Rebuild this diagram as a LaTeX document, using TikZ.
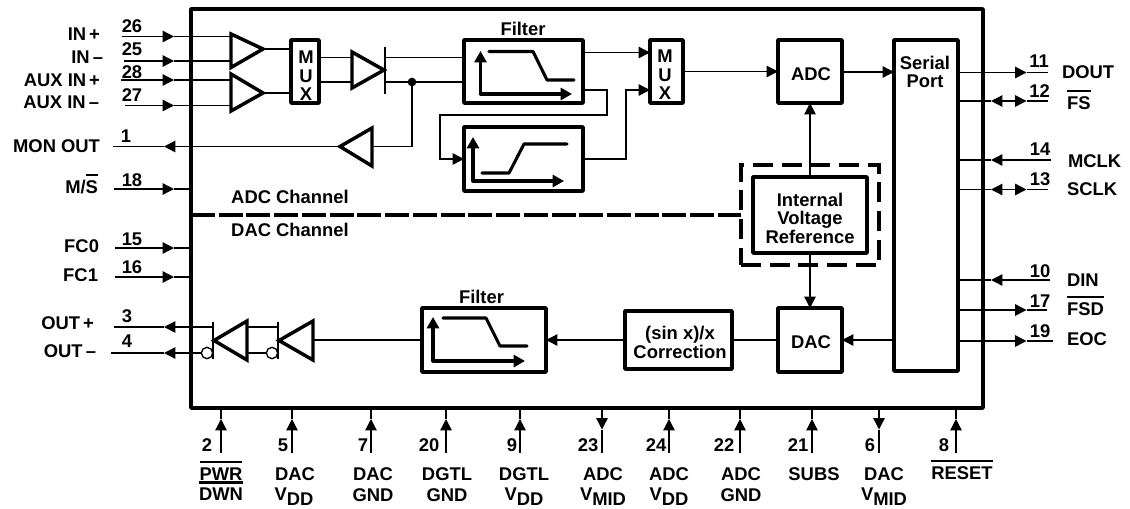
\documentclass[tikz,border=0pt]{standalone}
\usepackage{fontspec}
\setmainfont{Liberation Sans}
\usetikzlibrary{arrows.meta}
\newcommand\ovl[1]{\setbox0=\hbox{#1}\rlap{\vrule width\wd0 height 14.4pt depth -12.6pt}\box0}
\newcommand\lowr[1]{\raisebox{-3.4pt}{#1}}
\tikzset{
  thinw/.style={line width=1pt,draw=black},
  sig/.style={thinw,>={Triangle[length=8.5pt,width=8.5pt]}},
  sz/.style 2 args={minimum width=#1*0.75pt,minimum height=#2*0.75pt},
  blk/.style={draw=black,line width=2.6pt,inner sep=0pt,outer sep=0pt,rectangle,line join=round,fill=white},
  txt/.style={font=\fontsize{13.8}{13.9}\selectfont\bfseries,inner sep=0pt,outer sep=0pt,text=black},
  lab/.style={txt,anchor=base},
  multi/.style={txt,align=center,anchor=center},
  amp/.style={draw=black,line width=2.6pt,line join=miter,fill=white},
  glyph/.style={draw=black,line width=2.3pt,line cap=round,line join=round},
  axes/.style={draw=black,line width=2.3pt,line join=round,{Triangle[length=8.5pt,width=9pt]}-{Triangle[length=8.5pt,width=9pt]}},
  bar/.style={thinw},
  dashsep/.style={draw=black,line width=2.9pt,dash pattern=on 18pt off 2.8pt},
  dashbox/.style={draw=black,line width=2.6pt,dash pattern=on 15pt off 6.5pt,rectangle,inner sep=0pt,outer sep=0pt},
  bubble/.style={circle,draw=black,line width=1pt,fill=white,minimum size=8.5pt,inner sep=0pt,outer sep=0pt},
  junction/.style={circle,fill=black,minimum size=6.5pt,inner sep=0pt,outer sep=0pt}
}
\begin{document}
\begin{tikzpicture}[x=0.75pt,y=-0.75pt]
\useasboundingbox (0,0) rectangle (1130,508);
\fill[white] (0,0) rectangle (1130,508);

% chip outline
\node[blk,sz={792}{399}] (chip) at (587,208.5) {};

% amplifier and bar reference points
\coordinate (a1t) at (231,34);   \coordinate (a1b) at (231,67.5); \coordinate (a1x) at (263,49);
\coordinate (a2t) at (231,74);   \coordinate (a2b) at (231,111);  \coordinate (a2x) at (263,93);
\coordinate (a3t) at (352,52);   \coordinate (a3b) at (352,88);   \coordinate (a3x) at (384,70);
\coordinate (a4t) at (372,128);  \coordinate (a4b) at (372,166);  \coordinate (a4x) at (340,146.5);
\coordinate (a5t) at (247,321);  \coordinate (a5b) at (247,360);  \coordinate (a5x) at (214,340.5);
\coordinate (a6t) at (313,321);  \coordinate (a6b) at (313,360);  \coordinate (a6x) at (279,340.5);
\coordinate (r1) at (352,57.5);  \coordinate (r2) at (352,82);
\coordinate (b3t) at (385,47);   \coordinate (b3b) at (385,94);
\coordinate (b5t) at (213,322);  \coordinate (b5b) at (213,359);
\coordinate (b6t) at (278,322);  \coordinate (b6b) at (278,359);

% blocks
\node[blk,sz={28}{63}] (mux1) at (305,71.5) {};
\node[blk,sz={33}{63}] (mux2) at (666.5,71.5) {};
\node[blk,sz={119}{63}] (f1) at (523.5,71.5) {};
\node[blk,sz={119}{64}] (f2) at (523.5,159) {};
\node[blk,sz={124}{64}] (f3) at (484,340) {};
\node[blk,sz={64}{63}] (adc) at (810,71.5) {};
\node[blk,sz={64}{64}] (dac) at (810,340) {};
\node[blk,sz={107}{58}] (corr) at (678.5,340) {};
\node[blk,sz={64}{331}] (sp) at (926,205.5) {};
\node[dashbox,sz={138}{100}] (vbox) at (810,215) {};
\node[blk,sz={114}{76}] (vref) at (810,215) {};

% internal wires
\draw[sig] (a1x) -- (a1x -| mux1.west);
\draw[sig] (a2x) -- (a2x -| mux1.west);
\draw[sig] (r1 -| mux1.east) -- (r1);
\draw[sig] (r2 -| mux1.east) -- (r2);
\draw[sig] (r1 -| b3t) -- (r1 -| f1.west);
\draw[sig] (r2 -| b3t) -- (r2 -| f1.west);
\node[junction] (dot) at (412,82) {};
\draw[sig] (dot) |- (a4x -| a4t);
\coordinate (f1o1) at (583,52.5);
\coordinate (f1o2) at (583,90);
\coordinate (r3) at (607,115);
\coordinate (r4) at (440,115);
\coordinate (f2i) at (464,159);
\coordinate (m2i1) at (650,52.5);
\coordinate (m2i2) at (650,90);
\coordinate (r5) at (626,159);
\draw[sig,->] (f1o1) -- (m2i1);
\draw[sig,->] (f1o2) -| (r3) -- (r4) |- (f2i);
\draw[sig,->] (r5 -| f2.east) -- (r5) |- (m2i2);
\draw[sig,->] (mux2.east) -- (adc.west);
\coordinate (sp1) at (894,72);
\draw[sig,->] (sp1 -| adc.east) -- (sp1);
\draw[sig,->] (vref.north) -- (adc.south);
\draw[sig,->] (vref.south) -- (dac.north);
\draw[sig,->] (sp.west |- dac.west) -- (dac.east);
\draw[sig] (dac.west) -- (corr.east);
\draw[sig,->] (corr.west) -- (f3.east);
\draw[sig] (f3.west) -- (a6t |- f3.west);
\coordinate (w3) at (0,327);
\coordinate (w4) at (0,353);
\draw[sig] (w3 -| a5t) -- (w3 -| b6t);
\node[bubble] (bub6) at (272,353) {};
\node[bubble] (bub5) at (207,353) {};
\draw[sig] (w4 -| a5t) -- (bub6);

% amplifiers
\draw[amp] (a1t) -- (a1x) -- (a1b) -- cycle;
\draw[amp] (a2t) -- (a2x) -- (a2b) -- cycle;
\draw[amp] (a3t) -- (a3x) -- (a3b) -- cycle;
\draw[amp] (a4t) -- (a4x) -- (a4b) -- cycle;
\draw[amp] (a5t) -- (a5x) -- (a5b) -- cycle;
\draw[amp] (a6t) -- (a6x) -- (a6b) -- cycle;
\draw[bar] (b3t) -- (b3b);
\draw[bar] (b5t) -- (b5b);
\draw[bar] (b6t) -- (b6b);

% filter response glyphs
\draw[axes] (480.5,51) -- (480.5,94) -- (572,94);
\draw[glyph] (489,51.5) -- (533,51.5) -- (547,80) -- (574,80);
\draw[axes] (473,137) -- (473,181) -- (564,181);
\draw[glyph] (482,173) -- (509,173) -- (524,144) -- (567,144);
\draw[axes] (433,317) -- (433,361) -- (525,361);
\draw[glyph] (443,318) -- (486,318) -- (500,346) -- (527,346);

% channel separator
\draw[dashsep] (vbox.west -| chip.west) -- (vbox.west);

% left pins, inputs
\foreach \n/\y/\xs/\xe in {26/36.5/122/231,25/61/124/231,28/80/121/231,27/105.5/125/231,18/189/114/191,15/248/115/191,16/277/115/191}{
  \coordinate (p\n) at (\xs,\y);
  \coordinate (t\n) at (174,\y);
  \coordinate (e\n) at (\xe,\y);
  \draw[sig,->] (p\n) -- (t\n);
  \draw[sig] (t\n) -- (e\n);
}
% left pins, outputs
\foreach \n/\y/\xs/\xe in {1/146.5/113/340,3/327/114/213,4/353/111/201.5}{
  \coordinate (p\n) at (\xs,\y);
  \coordinate (t\n) at (164,\y);
  \coordinate (e\n) at (\xe,\y);
  \draw[sig,->] (e\n) -- (t\n);
  \draw[sig] (t\n) -- (p\n);
}
% right pins
\foreach \n/\y/\xe in {11/72.5/1048,17/310/1047,19/341/1053}{
  \coordinate (p\n) at (\xe,\y);
  \coordinate (t\n) at (1026.5,\y);
  \draw[sig,->] (t\n -| sp.east) -- (t\n);
  \draw[sig] (t\n) -- (p\n);
}
\foreach \n/\y/\xe in {14/160/1051,10/280/1050}{
  \coordinate (p\n) at (\xe,\y);
  \coordinate (t\n) at (991,\y);
  \draw[sig,->] (p\n) -- (t\n);
  \draw[sig] (t\n) -- (t\n -| sp.east);
}
\foreach \n/\y/\xe in {12/101/1048,13/189.5/1048}{
  \coordinate (p\n) at (\xe,\y);
  \coordinate (t\n) at (991,\y);
  \coordinate (u\n) at (1026.5,\y);
  \draw[sig,<->] (t\n) -- (u\n);
  \draw[sig] (t\n) -- (t\n -| sp.east);
  \draw[sig] (u\n) -- (p\n);
}
% bottom pins
\foreach \n/\x in {2/221,5/292,7/371,20/446,9/520,24/669,22/740,21/812,8/956}{
  \coordinate (p\n) at (\x,453);
  \coordinate (t\n) at (\x,419);
  \draw[sig,->] (p\n) -- (t\n);
  \draw[sig] (t\n) -- (t\n |- chip.south);
}
\foreach \n/\x in {23/602,6/879}{
  \coordinate (p\n) at (\x,453);
  \coordinate (t\n) at (\x,429.5);
  \draw[sig,->] (t\n |- chip.south) -- (t\n);
  \draw[sig] (t\n) -- (p\n);
}

% block texts
\node[multi] (tm1) at (306,76) {M\\U\\X};
\node[multi] (tm2) at (665,75) {M\\U\\X};
\node[lab] (tf1) at (523,35) {Filter};
\node[lab] (tf3) at (481.5,303) {Filter};
\node[lab] (tadc) at (811,80.5) {ADC};
\node[lab] (tdac) at (811,348.5) {DAC};
\node[multi] (tcorr) at (680,342.5) {(sin x)/x\\Correction};
\node[multi] (tsp) at (925,72) {Serial\\Port};
\node[multi] (tvr) at (810,218) {Internal\\Voltage\\Reference};
\node[lab] (tac) at (290,203) {ADC Channel};
\node[lab] (tdc) at (290,236.5) {DAC Channel};

% pin numbers
\foreach \n/\x/\y in {26/132/32.7,25/132/55,28/132/78,27/132/101,1/126/142,18/132/186,15/132/245,16/132/273,3/127/322,4/127/347,
  11/1039/67,12/1039.5/97,14/1040/155,13/1040/185,10/1040/277,17/1040/307,19/1040/337,
  2/207/451.7,5/283/451.7,7/363/451.7,20/429/451.7,9/512/451.7,23/588/451.7,24/656/451.7,22/724/451.7,21/798/451.7,6/870/451.7,8/944/451.7}{
  \node[lab] (n\n) at (\x,\y) {\n};
}

% left signal names
\foreach \i/\x/\y/\t in {a/100/40.7/{IN\,+},b/103/63.5/{IN\,–},c/100/86/{AUX IN\,+},d/99/108/{AUX IN\,–},e/100/152/{MON OUT},f/98/193/{M/\ovl{S}},g/99/252/{FC0},h/98/281/{FC1},i/94/329/{OUT\,+},j/96/357/{OUT\,–}}{
  \node[lab,anchor=base east] (L\i) at (\x,\y) {\t};
}
% right signal names
\foreach \i/\x/\y/\t in {a/1062/78/{DOUT},b/1067/109/{\ovl{FS}},c/1068/167/{MCLK},d/1067/195/{SCLK},e/1067/286/{DIN},f/1067/315/{\ovl{FSD}},g/1067/345/{EOC}}{
  \node[lab,anchor=base west] (R\i) at (\x,\y) {\t};
}
% bottom names
\foreach \i/\x/\y/\t in {a/221/480/{\ovl{PWR}},b/221/500.5/{\ovl{DWN}},c/295/480/{DAC},d/294/500.6/{V\lowr{DD}},e/373/480/{DAC},f/373/501/{GND},g/447/480/{DGTL},h/447/501/{GND},i/524/480/{DGTL},j/524/500.6/{V\lowr{DD}},k/603/480/{ADC},l/603/500.6/{V\lowr{MID}},m/669/480/{ADC},n/669/500.6/{V\lowr{DD}},o/741/480/{ADC},p/741/501/{GND},q/814/480/{SUBS},r/884/480/{DAC},s/884/500.6/{V\lowr{MID}},t/962/479/{\ovl{RESET}}}{
  \node[lab] (B\i) at (\x,\y) {\t};
}
\end{tikzpicture}
\end{document}
